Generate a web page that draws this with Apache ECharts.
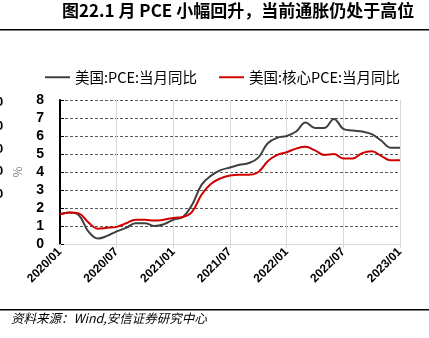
<!DOCTYPE html>
<html><head><meta charset="utf-8">
<script src="https://cdn.jsdelivr.net/npm/echarts@6/dist/echarts.min.js"></script>
<style>html,body{margin:0;padding:0;background:#fff}#c{width:429px;height:338px}</style>
</head><body><div id="c"></div>
<script>
var categories = ["2020/01","2020/02","2020/03","2020/04","2020/05","2020/06","2020/07","2020/08","2020/09","2020/10","2020/11","2020/12",
"2021/01","2021/02","2021/03","2021/04","2021/05","2021/06","2021/07","2021/08","2021/09","2021/10","2021/11","2021/12",
"2022/01","2022/02","2022/03","2022/04","2022/05","2022/06","2022/07","2022/08","2022/09","2022/10","2022/11","2022/12","2023/01"];
var pce = [1.65,1.75,1.6,0.7,0.3,0.45,0.7,0.9,1.15,1.15,1.0,1.1,
1.35,1.5,2.2,3.3,3.8,4.1,4.25,4.4,4.5,4.8,5.6,5.9,
6.0,6.25,6.75,6.45,6.45,6.95,6.4,6.3,6.25,6.1,5.75,5.35,5.35];
var corePce = [1.65,1.75,1.7,1.2,0.85,0.9,0.95,1.15,1.35,1.35,1.3,1.35,
1.45,1.5,1.8,2.75,3.35,3.65,3.8,3.85,3.85,4.0,4.6,4.95,
5.1,5.3,5.4,5.2,4.95,5.0,4.75,4.75,5.05,5.15,4.9,4.65,4.65];
var yTicks = [0,1,2,3,4,5,6,7,8];
var seriesNames = ["美国:PCE:当月同比","美国:核心PCE:当月同比"];
var titleText = "图22.1 月 PCE 小幅回升，当前通胀仍处于高位";
var sourceText = "资料来源：Wind,安信证券研究中心";
var edgeLabels = ["0","0","0","0","0"];

var chart = echarts.init(document.getElementById('c'));
var fam = '"Noto Sans CJK SC","Liberation Sans",Arial,sans-serif';
var edgeGraphics = edgeLabels.map(function(t,i){
  return {type:'text',left:-4,top:[96,120,143,165,188][i],style:{text:t,font:'bold 13px "Liberation Sans",Arial,sans-serif',fill:'#000'}};
});
chart.setOption({
  animation:false,
  backgroundColor:'#fff',
  textStyle:{fontFamily:fam},
  legend:{
    top:65,left:40,itemGap:22,itemWidth:25,itemHeight:2,
    icon:'rect',
    textStyle:{fontSize:14.5,color:'#000',fontFamily:fam},
    data:seriesNames
  },
  grid:{left:60,right:29,top:100,bottom:94},
  xAxis:{
    type:'category',data:categories,boundaryGap:false,
    axisLine:{lineStyle:{color:'#d9d9d9',width:1}},
    axisTick:{show:true,interval:5,length:4,lineStyle:{color:'#d9d9d9'}},
    axisLabel:{interval:5,rotate:45,fontSize:12,fontWeight:'bold',color:'#000',margin:6,fontFamily:'"Liberation Sans",Arial,sans-serif'},
    splitLine:{show:true,interval:5,lineStyle:{color:'#d9d9d9',width:1}}
  },
  yAxis:{
    type:'value',min:yTicks[0],max:yTicks[yTicks.length-1],interval:1,
    name:'%',nameLocation:'middle',nameGap:36,nameRotate:-90,
    nameTextStyle:{color:'#808080',fontSize:12},
    axisLine:{show:true,lineStyle:{color:'#000',width:2}},
    axisTick:{show:true,inside:true,length:4,lineStyle:{color:'#000',width:1}},
    axisLabel:{fontSize:14,fontWeight:'bold',color:'#000',margin:16,fontFamily:'"Liberation Sans",Arial,sans-serif'},
    splitLine:{show:true,lineStyle:{color:'#595959',type:[3,2],width:1}}
  },
  series:[
    {name:seriesNames[0],type:'line',data:pce,smooth:0.4,symbol:'none',lineStyle:{color:'#404040',width:2},itemStyle:{color:'#404040'}},
    {name:seriesNames[1],type:'line',data:corePce,smooth:0.4,symbol:'none',lineStyle:{color:'#d00000',width:2},itemStyle:{color:'#d00000'}}
  ],
  graphic:[
    {type:'text',left:62,top:2,style:{text:titleText,font:'bold 17px '+fam,fill:'#000'}},
    {type:'rect',shape:{x:0,y:29,width:429,height:1.5},style:{fill:'#000'}},
    {type:'rect',shape:{x:0,y:309,width:429,height:1.5},style:{fill:'#000'}},
    {type:'text',left:11,top:312,style:{text:sourceText,font:'italic 12.5px '+fam,fill:'#000'}}
  ].concat(edgeGraphics)
});
</script></body></html>
